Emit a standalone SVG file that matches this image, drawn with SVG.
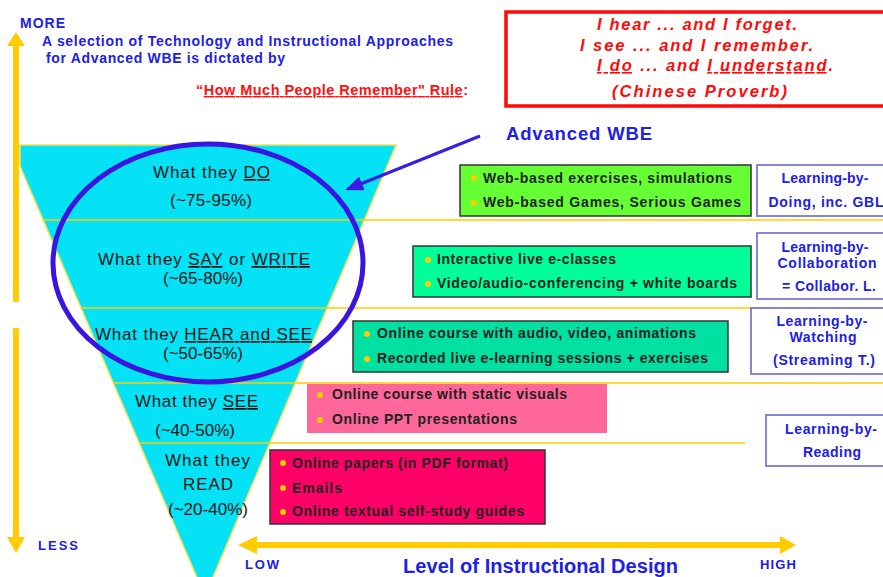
<svg xmlns="http://www.w3.org/2000/svg" width="883" height="577" viewBox="0 0 883 577">
<style>
text{font-family:"Liberation Sans",Arial,Helvetica,sans-serif}
.bl{font-weight:bold;fill:#2020e6}
.ft{font-size:17px;fill:#161616}
.bx{font-weight:bold;font-size:14px;fill:#222}
.rd{font-weight:bold;font-style:italic;font-size:16.5px;fill:#ff0a0a}
.lb{font-weight:bold;font-size:14px;fill:#2020e6;text-anchor:middle}
.u{text-decoration:underline}
.sep{stroke:#ffcc00;stroke-width:1.5}
.dot{fill:#ffcc00}
.lbox{fill:#fff;stroke:#6a6acf;stroke-width:1.6}
.ybar{fill:#ffcc00}
</style>
<defs>
<marker id="bh" markerWidth="6" markerHeight="5" refX="5" refY="2.5" orient="auto" markerUnits="strokeWidth">
<path d="M0,0 L6,2.5 L0,5 z" fill="#3a1ee0"/>
</marker>
</defs>
<rect width="883" height="577" fill="#fff"/>

<g id="header">
<text class="bl" x="20" y="28" font-size="14" textLength="45">MORE</text>
<text class="bl" x="42" y="46" font-size="14" textLength="411">A selection of Technology and Instructional Approaches</text>
<text class="bl" x="46" y="63" font-size="14" textLength="239">for Advanced WBE is dictated by</text>
<text x="196" y="95" font-size="14.5" font-weight="bold" fill="#ff1010" textLength="272">“<tspan class="u">How Much People Remember" Rule</tspan>:</text>
</g>

<g id="proverb">
<rect x="506" y="12" width="390" height="94" fill="#fff" stroke="#ff0a0a" stroke-width="3.5"/>
<text class="rd" x="597" y="30" textLength="200">I hear ... and I forget.</text>
<text class="rd" x="580" y="51" textLength="233">I see ... and I remember.</text>
<text class="rd" x="597" y="71" textLength="236"><tspan class="u">I do</tspan> ... and <tspan class="u">I understand</tspan>.</text>
<text class="rd" x="612" y="97" textLength="175">(Chinese Proverb)</text>
</g>

<g id="advanced-wbe">
<text class="bl" x="506" y="140" font-size="18.5" textLength="146">Advanced WBE</text>
</g>

<g id="funnel">
<polygon points="20,145 396,145 205,596 20,166" fill="#05e1f5" stroke="#f5e050" stroke-width="1.5"/>
<line class="sep" x1="43" y1="220" x2="883" y2="220"/>
<line class="sep" x1="81" y1="308" x2="883" y2="308" stroke="#ffe27a"/>
<line class="sep" x1="113" y1="383" x2="883" y2="383"/>
<line class="sep" x1="139" y1="443" x2="745" y2="443"/>
</g>

<g id="level-do">
<text class="ft" x="153" y="178" textLength="117">What they <tspan class="u">DO</tspan></text>
<text class="ft" x="170" y="206" textLength="82">(~75-95%)</text>
</g>
<g id="level-say">
<text class="ft" x="98" y="265" textLength="212">What they <tspan class="u">SAY</tspan> or <tspan class="u">WRITE</tspan></text>
<text class="ft" x="163" y="284" textLength="80">(~65-80%)</text>
</g>
<g id="level-hear">
<text class="ft" x="95" y="340" textLength="217">What they <tspan class="u">HEAR and SEE</tspan></text>
<text class="ft" x="163" y="359" textLength="80">(~50-65%)</text>
</g>
<g id="level-see">
<text class="ft" x="135" y="407" textLength="123">What they <tspan class="u">SEE</tspan></text>
<text class="ft" x="155" y="436" textLength="80">(~40-50%)</text>
</g>
<g id="level-read">
<text class="ft" x="165" y="466" textLength="85">What they</text>
<text class="ft" x="183" y="490" textLength="50">READ</text>
<text class="ft" x="168" y="515" textLength="80">(~20-40%)</text>
</g>

<g id="ellipse-wbe">
<ellipse cx="208" cy="263" rx="155" ry="119" fill="none" stroke="#3a14e0" stroke-width="5"/>
</g>

<g id="box-doing">
<rect x="460" y="165" width="291" height="51" fill="#66ff33" stroke="#333" stroke-width="1.5"/>
<circle class="dot" cx="474" cy="178" r="3"/>
<circle class="dot" cx="474" cy="203" r="3"/>
<text class="bx" x="483" y="183" textLength="249">Web-based exercises, simulations</text>
<text class="bx" x="483" y="207" textLength="258">Web-based Games, Serious Games</text>
</g>
<g id="box-collab">
<rect x="413" y="246" width="338" height="51" fill="#00ff99" stroke="#333" stroke-width="1.5"/>
<circle class="dot" cx="428" cy="260" r="3"/>
<circle class="dot" cx="428" cy="284" r="3"/>
<text class="bx" x="437" y="264" textLength="179">Interactive live e-classes</text>
<text class="bx" x="437" y="288" textLength="300">Video/audio-conferencing + white boards</text>
</g>
<g id="box-watch">
<rect x="353" y="321" width="375" height="51" fill="#00e0a0" stroke="#333" stroke-width="1.5"/>
<circle class="dot" cx="367" cy="334" r="3"/>
<circle class="dot" cx="367" cy="359" r="3"/>
<text class="bx" x="377" y="338" textLength="319">Online course with audio, video, animations</text>
<text class="bx" x="377" y="363" textLength="331">Recorded live e-learning sessions + exercises</text>
</g>
<g id="box-see">
<rect x="307" y="384" width="300" height="49" fill="#ff6699"/>
<circle class="dot" cx="320" cy="395" r="3"/>
<circle class="dot" cx="320" cy="420" r="3"/>
<text class="bx" x="332" y="399" textLength="235">Online course with static visuals</text>
<text class="bx" x="332" y="424" textLength="185">Online PPT presentations</text>
</g>
<g id="box-read">
<rect x="270" y="450" width="275" height="74" fill="#ff0066" stroke="#333" stroke-width="1.5"/>
<circle class="dot" cx="283" cy="463" r="3"/>
<circle class="dot" cx="283" cy="488" r="3"/>
<circle class="dot" cx="283" cy="512" r="3"/>
<text class="bx" x="292" y="468" textLength="216">Online papers (in PDF format)</text>
<text class="bx" x="292" y="493" textLength="50">Emails</text>
<text class="bx" x="292" y="516" textLength="232">Online textual self-study guides</text>
</g>

<g id="label-doing">
<rect class="lbox" x="757" y="165" width="140" height="51"/>
<text class="lb" x="825" y="183" textLength="87">Learning-by-</text>
<text class="lb" x="826" y="207" textLength="115">Doing, inc. GBL</text>
</g>
<g id="label-collab">
<rect class="lbox" x="757" y="233" width="140" height="66"/>
<text class="lb" x="825" y="252" textLength="87">Learning-by-</text>
<text class="lb" x="827" y="268" textLength="99">Collaboration</text>
<text class="lb" x="829" y="291" textLength="94">= Collabor. L.</text>
</g>
<g id="label-watch">
<rect class="lbox" x="751" y="308" width="146" height="66"/>
<text class="lb" x="822" y="326" font-size="13" textLength="91">Learning-by-</text>
<text class="lb" x="823" y="342" font-size="13" textLength="67">Watching</text>
<text class="lb" x="824" y="365" textLength="102">(Streaming T.)</text>
</g>
<g id="label-read">
<rect class="lbox" x="766" y="415" width="131" height="51"/>
<text class="lb" x="831" y="434" textLength="92">Learning-by-</text>
<text class="lb" x="832" y="457" textLength="58">Reading</text>
</g>

<g id="axis-labels">
<text class="bl" x="38" y="550" font-size="13" textLength="40">LESS</text>
<text class="bl" x="245" y="569" font-size="13" textLength="34">LOW</text>
<text class="bl" x="760" y="569" font-size="13" textLength="36">HIGH</text>
<text class="bl" x="403" y="573" font-size="20" textLength="275">Level of Instructional Design</text>
</g>

<g id="connectors">
<rect class="ybar" x="13" y="44" width="6" height="258"/>
<polygon class="ybar" points="16,32 7,46 25,46"/>
<rect class="ybar" x="13" y="328" width="6" height="211"/>
<polygon class="ybar" points="7,537 25,537 16,553"/>
<rect class="ybar" x="255" y="542" width="527" height="6"/>
<polygon class="ybar" points="238,545 257,536 257,554"/>
<polygon class="ybar" points="796,545 780,536 780,554"/>
<line x1="480" y1="136" x2="348" y2="189" stroke="#3a1ee0" stroke-width="3" marker-end="url(#bh)"/>
</g>
</svg>
